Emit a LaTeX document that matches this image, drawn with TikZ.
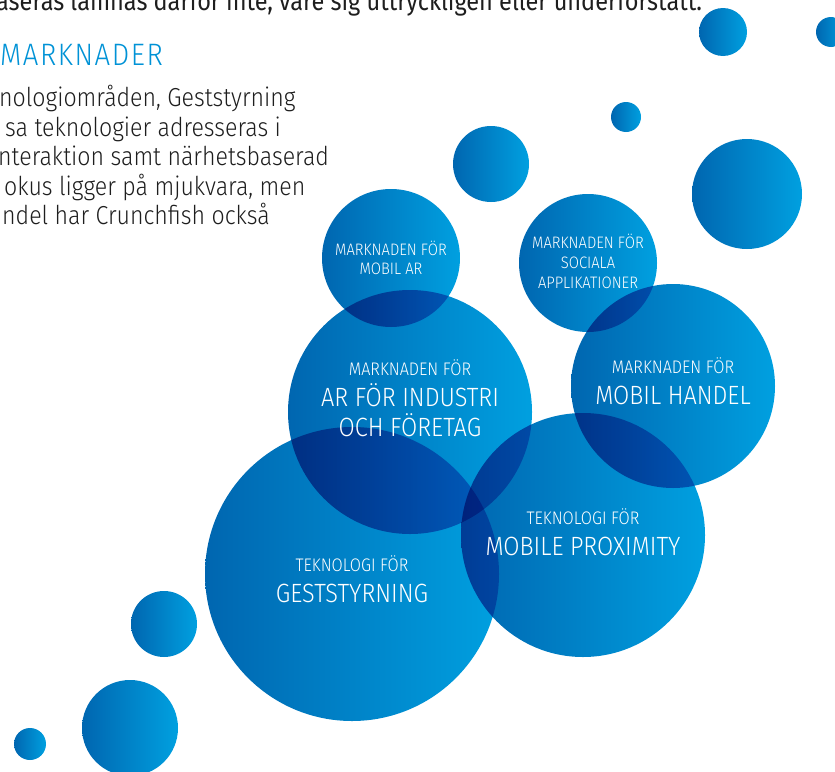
\documentclass[tikz,border=0pt]{standalone}
\usepackage{fontspec}
\setmainfont{Fira Sans Light}[FakeStretch=0.89]
\newfontfamily\regfont{Fira Sans}[FakeStretch=0.88]
\usetikzlibrary{calc}
\definecolor{bubleft}{RGB}{0,102,176}
\definecolor{bubright}{RGB}{0,160,224}
\definecolor{headblue}{RGB}{0,146,214}
\definecolor{inktext}{RGB}{30,30,30}
\tikzset{
  bubble/.style={
    circle, inner sep=0pt, minimum size=#1,
    left color=bubleft, right color=bubright
  },
  tinylabel/.style={text=white, inner sep=0pt, anchor=base, font=\fontsize{16.6}{20}\selectfont},
  smalllabel/.style={tinylabel, font=\fontsize{18.2}{22}\selectfont},
  biglabel/.style={tinylabel, font=\fontsize{26.4}{30}\selectfont},
  bodytext/.style={text=inktext, inner sep=0pt, anchor=base west, font=\fontsize{26}{29}\selectfont},
  heading/.style={bodytext, text=headblue, font=\fontsize{31}{34}\selectfont\addfontfeature{LetterSpace=5}}
}

\begin{document}
\begin{tikzpicture}[x=1pt, y=-1pt]
    \useasboundingbox (0,0) rectangle (835,771);
    \clip (0,0) rectangle (835,771);
    % text column on the left
    \node[bodytext, font=\fontsize{26.7}{30}\regfont] (intro) at (-4,10) {aseras lämnas därför inte, vare sig uttryckligen eller underförstått.};
    \node[heading] (head) at (0,65) {MARKNADER};
    \node[bodytext] (lineA) at (-1,106.5) {nologiområden, Geststyrning};
    \node[bodytext] (lineB) at (5,136) {sa teknologier adresseras i};
    \node[bodytext] (lineC) at (-2,165.5) {nteraktion samt närhetsbaserad};
    \node[bodytext] (lineD) at (4,195) {okus ligger på mjukvara, men};
    \node[bodytext] (lineE) at (2,224.5) {ndel har Crunchfish också};
    % bubbles, overlaps darken
    \begin{scope}[blend mode=multiply]
    \node[bubble=48pt] (dotA) at (723,32) {};
    \node[bubble=30pt] (dotB) at (831,32) {};
    \node[bubble=30pt] (dotC) at (626,117) {};
    \node[bubble=76pt] (dotD) at (491,164) {};
    \node[bubble=110pt] (dotE) at (747,194) {};
    \node[bubble=138pt] (mobar) at (391,258) {};
    \node[bubble=138pt] (social) at (588,263) {};
    \node[bubble=244pt] (arind) at (410,412) {};
    \node[bubble=204pt] (handel) at (673,386) {};
    \node[bubble=294pt] (gest) at (352,574) {};
    \node[bubble=244pt] (prox) at (583,535) {};
    \node[bubble=66pt] (dotF) at (164,624) {};
    \node[bubble=96pt] (dotG) at (130,728) {};
    \node[bubble=32pt] (dotH) at (30,744) {};
    \end{scope}
    % labels
    \node[tinylabel] (mobarA) at ($(mobar)+(0,-3)$) {MARKNADEN FÖR};
    \node[tinylabel] (mobarB) at ($(mobar)+(0,16)$) {MOBIL AR};
    \node[tinylabel] (socialA) at ($(social)+(0,-15)$) {MARKNADEN FÖR};
    \node[tinylabel] (socialB) at ($(social)+(0,5)$) {SOCIALA};
    \node[tinylabel] (socialC) at ($(social)+(0,25)$) {APPLIKATIONER};
    \node[smalllabel] (arindA) at ($(arind)+(0,-36.5)$) {MARKNADEN FÖR};
    \node[biglabel] (arindB) at ($(arind)+(0,-6)$) {AR FÖR INDUSTRI};
    \node[biglabel] (arindC) at ($(arind)+(0,24)$) {OCH FÖRETAG};
    \node[smalllabel] (handelA) at ($(handel)+(0,-12.5)$) {MARKNADEN FÖR};
    \node[biglabel] (handelB) at ($(handel)+(0,18)$) {MOBIL HANDEL};
    \node[smalllabel] (gestA) at ($(gest)+(0,-2.5)$) {TEKNOLOGI FÖR};
    \node[biglabel] (gestB) at ($(gest)+(0,28)$) {GESTSTYRNING};
    \node[smalllabel] (proxA) at ($(prox)+(0,-10.5)$) {TEKNOLOGI FÖR};
    \node[biglabel] (proxB) at ($(prox)+(0,20)$) {MOBILE PROXIMITY};
\end{tikzpicture}
\end{document}
